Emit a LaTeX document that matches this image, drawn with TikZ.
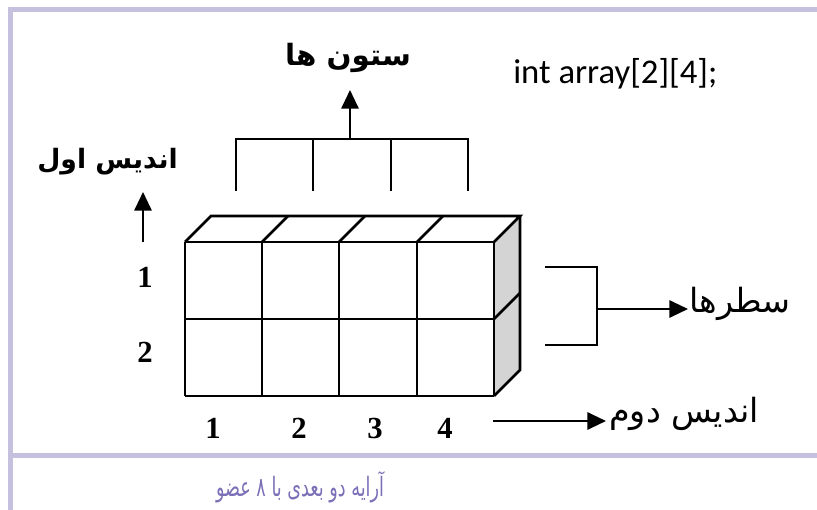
\documentclass[tikz,border=0pt]{standalone}
\usepackage{fontspec}
\usetikzlibrary{arrows.meta}
\setmainfont{Liberation Serif}
\newfontfamily\fa[Script=Arabic]{DejaVu Sans}
\newfontfamily\fab[Script=Arabic]{DejaVu Sans Bold}
\newfontfamily\codefont{Carlito}
\TeXXeTstate=1
\definecolor{frame}{RGB}{197,192,222}
\definecolor{capt}{RGB}{123,111,184}
\definecolor{side}{RGB}{212,212,212}
\tikzset{
  ln/.style={line width=2pt, line join=miter},
  arr/.style={line width=1.5pt, -{Triangle[length=14pt,width=13pt]}},
  fatext/.style={inner sep=0pt},
  num/.style={inner sep=0pt, font=\bfseries\fontsize{23}{25}\selectfont},
}
\begin{document}
\begin{tikzpicture}[x=0.75pt,y=-0.75pt]
\useasboundingbox (0,0) rectangle (817,510);
\fill[white] (0,0) rectangle (817,510);
% frame
\fill[frame] (8,7) rectangle (817,12);
\fill[frame] (8,7) rectangle (13,510);
\fill[frame] (8,453) rectangle (817,458);

% cube: side face
\fill[side] (494,242) -- (520,216) -- (520,370) -- (494,396) -- cycle;
% front grid
\foreach \x in {185,262,339,417,494} \draw[ln] (\x,242) -- (\x,396);
\foreach \y in {242,319,396} \draw[ln] (185,\y) -- (494,\y);
% top face
\draw[ln] (185,242) -- (211,216) -- (520,216) -- (494,242);
\foreach \x in {262,339,417} \draw[ln] (\x,242) -- ++(26,-26);
% side face edges
\draw[ln] (520,216) -- (520,370) -- (494,396);
\draw[ln] (494,319) -- (520,293);

% column bracket
\draw[ln] (236,191) -- (236,139) -- (468,139) -- (468,191);
\draw[ln] (313,139) -- (313,191);
\draw[ln] (391,139) -- (391,191);
\coordinate (colmid) at (350,139);
\node[fatext, font=\fab\fontsize{22}{26}\selectfont] (cols) at (348,58) {\beginR ستون ها\endR};
\draw[arr] (colmid) -- (350,90);

% code
\node[inner sep=0pt, anchor=west, font=\codefont\fontsize{26}{29}\selectfont] (code) at (513,74) {int array[2][4];};

% first index
\node[fatext, anchor=east, font=\fab\fontsize{20}{24}\selectfont] (idx1) at (178,162) {\beginR اندیس اول\endR};
\coordinate (a1s) at (143,242);
\draw[arr] (a1s) -- (143,192);
\node[num] (r1) at (145,277) {1};
\node[num] (r2) at (145,352) {2};

% column numbers
\node[num] (c1) at (213,428) {1};
\node[num] (c2) at (299,428) {2};
\node[num] (c3) at (375,428) {3};
\node[num] (c4) at (445,428) {4};

% second index
\coordinate (a2s) at (493,421);
\node[fatext, anchor=west, font=\fa\fontsize{25}{28}\selectfont] (idx2) at (609,414) {\beginR اندیس دوم\endR};
\draw[arr] (a2s) -- (606,421);

% row bracket
\draw[ln] (545,267) -- (597,267) -- (597,345) -- (545,345);
\coordinate (rowmid) at (597,309);
\node[fatext, anchor=west, font=\fa\fontsize{25}{28}\selectfont] (rows) at (689,304) {\beginR سطرها\endR};
\draw[arr] (rowmid) -- (688,309);

% caption
\node[inner sep=0pt, text=capt, font=\fa\fontsize{20}{24}\selectfont] (cap) at (300,487) {\scalebox{0.66}[1]{\beginR آرایه دو بعدی با ۸ عضو\endR}};
\end{tikzpicture}
\end{document}
